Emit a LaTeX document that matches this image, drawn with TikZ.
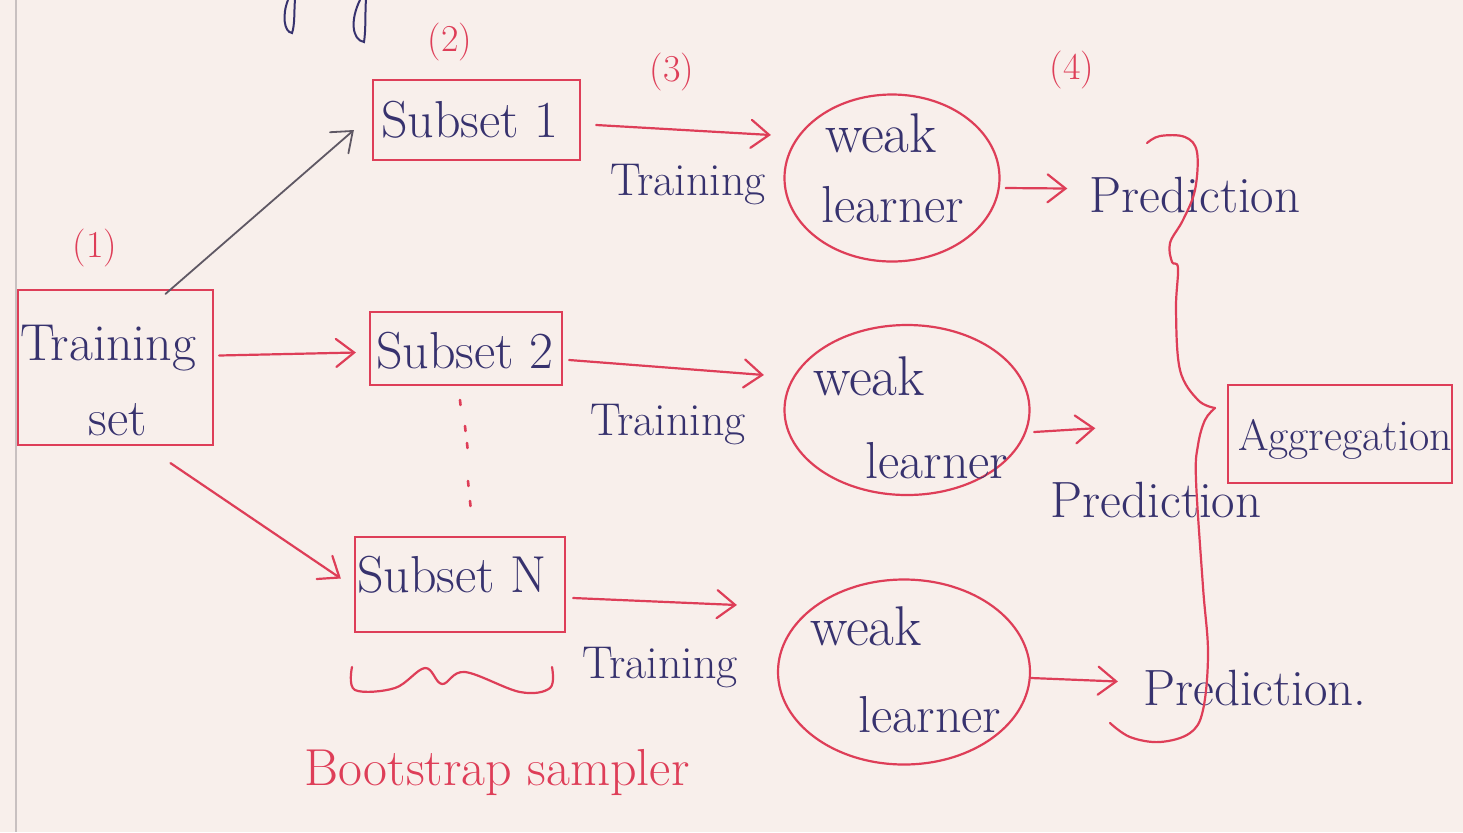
\documentclass[tikz,border=0pt]{standalone}
\usetikzlibrary{arrows.meta,shapes.geometric,calc}
\definecolor{paper}{RGB}{248,239,235}
\definecolor{pen}{RGB}{222,62,88}
\definecolor{ink}{RGB}{55,50,110}
\definecolor{pencil}{RGB}{95,88,100}
\definecolor{margin}{RGB}{200,192,192}
\begin{document}
\begin{tikzpicture}[x=0.5pt,y=-0.5pt,
  txt/.style={text=ink,font=\fontsize{22}{26}\selectfont,inner sep=0pt,anchor=base},
  big/.style={font=\fontsize{26}{30}\selectfont},
  num/.style={text=pen,font=\fontsize{19}{22}\selectfont,inner sep=0pt},
  box/.style={draw=pen,line width=1.1pt,rectangle,inner sep=0pt},
  learner/.style={draw=pen,line width=1.1pt,ellipse,inner sep=0pt},
  arr/.style={draw=pen,line width=1.1pt,line cap=round,-{Straight Barb[length=9pt,width=14pt,line cap=round]}},
  penline/.style={draw=pen,line width=1.1pt,line cap=round,line join=round},
  ]
\fill[paper] (0,0) rectangle (1463,832);
\useasboundingbox (0,0) rectangle (1463,832);
% notebook margin line and cut-off strokes at the top
\draw[margin,line width=0.8pt] (16,0) -- (16,832);
\draw[ink,line width=1pt] (288,0) .. controls (282,15) and (284,32) .. (292,33) .. controls (295,25) and (294,10) .. (295,0);
\draw[ink,line width=1pt] (360,0) .. controls (350,20) and (352,40) .. (364,42) .. controls (366,30) and (365,10) .. (366,0);

% step numbers
\node[num] (n1) at (95,248) {(1)};
\node[num] (n2) at (450,42) {(2)};
\node[num] (n3) at (672,72) {(3)};
\node[num] (n4) at (1072,70) {(4)};

% training set
\node[box,minimum width=97.5pt,minimum height=77.5pt] (train) at (115.5,367.5) {};
\node[txt,big] (tTrain) at (108,360) {Training};
\node[txt,big] (tSet) at (118,435) {set};

% subsets
\node[box,minimum width=103.5pt,minimum height=40pt] (sub1) at (476.5,120) {};
\node[txt,big] (tSub1) at (470,137) {Subset 1};
\node[box,minimum width=96pt,minimum height=36.5pt] (sub2) at (466,348.5) {};
\node[txt,big] (tSub2) at (465,368) {Subset 2};
\node[box,minimum width=105pt,minimum height=47.5pt] (subN) at (460,584.5) {};
\node[txt,big] (tSubN) at (452,592) {Subset N};

% dots between subsets
\foreach \x/\y in {460/402,465/428,467/445,468/483,470/503}
  \draw[pen,line width=1.3pt,line cap=round] (\x,\y-2) -- (\x+0.5,\y+3);

% weak learners
\node[learner,minimum width=107.5pt,minimum height=83.5pt] (wl1) at (892,178) {};
\node[txt,font=\fontsize{28}{32}\selectfont] (tW1) at (881,152) {weak};
\node[txt,big] (tL1) at (893,222) {learner};
\node[learner,minimum width=122.5pt,minimum height=85pt] (wl2) at (907,410) {};
\node[txt,font=\fontsize{28}{32}\selectfont] (tW2) at (869,395) {weak};
\node[txt,big] (tL2) at (937,478) {learner};
\node[learner,minimum width=126pt,minimum height=92.5pt] (wl3) at (904,672) {};
\node[txt,font=\fontsize{28}{32}\selectfont] (tW3) at (866,645) {weak};
\node[txt,big] (tL3) at (930,732) {learner};

% predictions
\node[txt,font=\fontsize{25.5}{30}\selectfont] (pred1) at (1195,212) {Prediction};
\node[txt,font=\fontsize{25.5}{30}\selectfont] (pred2) at (1156,517) {Prediction};
\node[txt,font=\fontsize{25.5}{30}\selectfont] (pred3) at (1255,705) {Prediction.};

% aggregation
\node[box,minimum width=112pt,minimum height=49pt] (agg) at (1340,434) {};
\node[txt] (tAgg) at (1345,450) {Aggregation};

% training labels
\node[txt,font=\fontsize{23}{27}\selectfont] (tr1) at (688,195) {Training};
\node[txt,font=\fontsize{23}{27}\selectfont] (tr2) at (668,435) {Training};
\node[txt,font=\fontsize{23}{27}\selectfont] (tr3) at (660,678) {Training};

% bootstrap label
\node[txt,big,text=pen] (boot) at (497,785) {Bootstrap sampler};

% arrows: training set -> subsets
\draw[arr,draw=pencil,line width=0.9pt] ($(train.north)+(50,5)$) -- ($(sub1.west)+(-18,10)$);
\draw[arr] ($(train.east)+(5,-12)$) -- ($(sub2.west)+(-13,4)$);
\draw[arr] ($(train.south)+(55,17)$) -- ($(subN.west)+(-13,-6)$);

% arrows: subsets -> weak learners
\draw[arr] ($(sub1.east)+(15,5)$) -- ($(wl1.west)+(-12.5,-43)$);
\draw[arr] ($(sub2.east)+(6,11.5)$) -- ($(wl2.west)+(-19.5,-35)$);
\draw[arr] ($(subN.east)+(7,13.5)$) -- ($(wl3.west)+(-40,-67)$);

% arrows: weak learners -> predictions
\draw[arr] ($(wl1.east)+(5,10)$) -- ($(pred1.west)+(-22,-6)$);
\draw[arr] ($(wl2.east)+(3.5,22)$) -- ($(pred2.north west)+(45,-53)$);
\draw[arr] ($(wl3.east)+(0,6)$) -- ($(pred3.west)+(-25,-6)$);

% brace under subset N
\draw[penline] plot[smooth,tension=0.6] coordinates {(352,667) (355,690) (395,688) (425,668) (442,684) (465,672) (520,692) (550,688) (552,667)};

% big brace gathering the predictions
\coordinate (cusp) at (1215,408);
\draw[penline] plot[smooth,tension=0.6] coordinates {(1147,143) (1160,136) (1185,137) (1197,152) (1195,190) (1183,220) (1170,243) (1172,262) (1178,268) (1176,310) (1180,370) (1198,400) (cusp)};
\draw[penline] plot[smooth,tension=0.6] coordinates {(cusp) (1205,420) (1198,445) (1196,480) (1203,587) (1208,653) (1203,710) (1190,733) (1160,742) (1130,737) (1110,723)};
\end{tikzpicture}
\end{document}
